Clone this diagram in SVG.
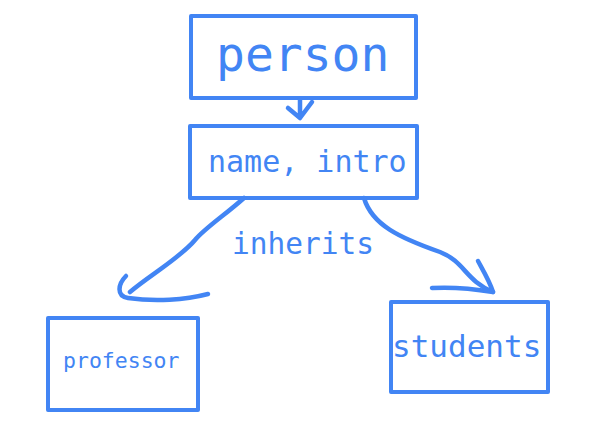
<svg xmlns="http://www.w3.org/2000/svg" width="608" height="446" viewBox="0 0 608 446">
<style>
.box{fill:none;stroke:#4285f4;stroke-width:4;stroke-linejoin:round}
.ln{fill:none;stroke:#4285f4;stroke-width:4.5;stroke-linecap:round;stroke-linejoin:round}
text{font-family:"DejaVu Sans Mono","Liberation Mono",monospace;fill:#4285f4}
</style>
<rect width="608" height="446" fill="#fff"/>
<g id="person"><rect class="box" x="191" y="16" width="225" height="82"/><text x="216" y="71" font-size="48">person</text></g>
<g id="name-intro"><rect class="box" x="190" y="126" width="227" height="72"/><text x="208" y="172" font-size="30">name, intro</text></g>
<g id="professor"><rect class="box" x="48" y="318" width="150" height="92"/><text x="63" y="368" font-size="21.5">professor</text></g>
<g id="students"><rect class="box" x="391" y="302" width="157" height="90"/><text x="392" y="357" font-size="31">students</text></g>
<g id="label"><text x="232" y="254" font-size="29.5">inherits</text></g>
<g id="connectors">
<path class="ln" d="M300 99 L300 117 M288 108 L300 118 L312 102"/>
<path class="ln" d="M244 198 C225 215 205 228 195 240 C180 258 150 275 130 292"/>
<path class="ln" d="M126 276 C118 284 116 296 128 298 C155 302 185 300 208 294"/>
<path class="ln" d="M364 198 C372 225 400 238 440 252 C465 262 465 280 493 292"/>
<path class="ln" d="M478 261 C484 272 490 282 493 292 C475 289 450 287 432 288"/>
</g>
</svg>
